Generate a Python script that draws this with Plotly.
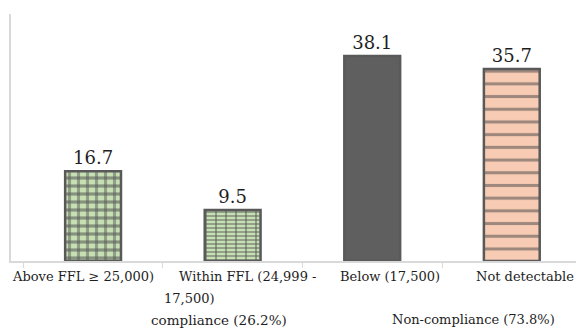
import plotly.graph_objects as go

# Share of samples by fortification level
categories = ["Above FFL ≥ 25,000)", "Within FFL (24,999 - 17,500)", "Below (17,500)", "Not detectable"]
values = [16.7, 9.5, 38.1, 35.7]
fill_colors = ["#c6e0b4", "#c6e0b4", "#5f5f5f", "#f8cbb4"]
group_labels = ["compliance (26.2%)", "Non-compliance (73.8%)"]

dark = "#595959"
serif = "DejaVu Serif, serif"
x_idx = list(range(len(categories)))

fig = go.Figure()

# Base bars: fill colour plus horizontal hatching
fig.add_trace(go.Bar(
    x=x_idx, y=values, width=0.4,
    marker=dict(
        color=fill_colors,
        line=dict(width=0),
        pattern=dict(
            shape=["-", "-", "", "-"],
            size=[8, 4, 8, 12.7],
            solidity=[0.4, 0.4, 0.3, 0.24],
            fgcolor=dark,
            fillmode="overlay",
        ),
    ),
    text=[f"{v:.1f}" for v in values],
    textposition="outside",
    textfont=dict(family=serif, size=18, color="#1e1e1e"),
    cliponaxis=False,
    hoverinfo="skip",
))

# Vertical hatching on the compliance bars, with the bar outline
fig.add_trace(go.Bar(
    x=x_idx, y=values, width=0.4,
    marker=dict(
        color="rgba(0,0,0,0)",
        line=dict(width=2.5, color=dark),
        pattern=dict(
            shape=["|", "|", "", ""],
            size=[9, 10, 8, 8],
            solidity=[0.35, 0.2, 0.3, 0.3],
            fgcolor=dark,
            fillmode="overlay",
        ),
    ),
    hoverinfo="skip",
))

# Category labels under the axis
label_font = dict(family=serif, size=13, color="#1e1e1e")
label_specs = [
    (0, categories[0], -10, 0),
    (1, "Within FFL (24,999 -", 15, 0),
    (1, "17,500)", -43, 22),
    (2, categories[2], 18, 0),
    (3, categories[3], 13, 0),
]
for xi, txt, dx, dy in label_specs:
    fig.add_annotation(x=xi, y=0, xref="x", yref="y", text=txt, showarrow=False,
                       xanchor="center", yanchor="top", xshift=dx, yshift=-6 - dy,
                       font=label_font)

# Group labels
group_font = dict(family=serif, size=13.5, color="#1e1e1e")
fig.add_annotation(x=0.5, y=0, xref="x", yref="y", text=group_labels[0], showarrow=False,
                   xanchor="center", yanchor="top", xshift=56, yshift=-49, font=group_font)
fig.add_annotation(x=2.5, y=0, xref="x", yref="y", text=group_labels[1], showarrow=False,
                   xanchor="center", yanchor="top", xshift=31, yshift=-49, font=label_font)

fig.update_layout(
    width=576, height=330,
    margin=dict(l=11, r=0, t=14, b=69),
    paper_bgcolor="white", plot_bgcolor="white",
    barmode="overlay",
    showlegend=False,
    font=dict(family=serif),
    xaxis=dict(
        range=[-0.588, 3.46],
        showticklabels=False,
        showgrid=False, zeroline=False,
        showline=True, linecolor="#d9d9d9", linewidth=1.5,
        tickmode="array", tickvals=[-0.5, 0.5, 1.5, 2.5],
        ticks="outside", ticklen=5, tickcolor="#d9d9d9", tickwidth=1,
    ),
    yaxis=dict(
        range=[0, 45.9],
        showticklabels=False, showgrid=False, zeroline=False,
        showline=True, linecolor="#d9d9d9", linewidth=2,
    ),
)

fig.write_html("out.html")
